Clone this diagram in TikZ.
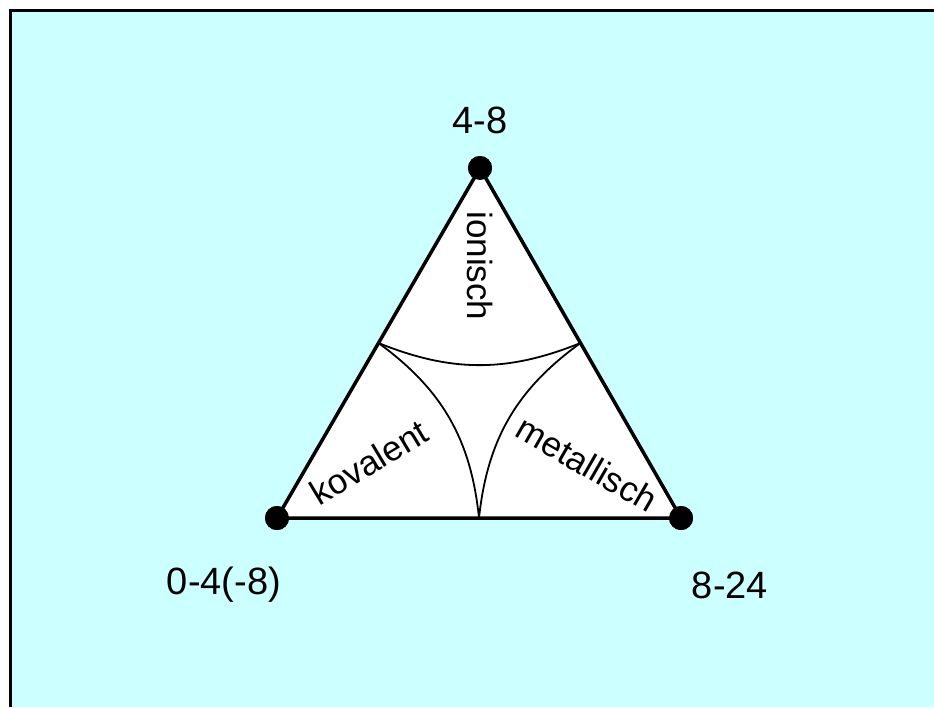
\documentclass[tikz,border=0pt]{standalone}
\usepackage{fontspec}
\setmainfont{Liberation Sans}
\usetikzlibrary{calc}
\definecolor{paneltint}{RGB}{204,255,255}
\tikzset{
  vertex/.style={circle, fill=black, inner sep=0pt, minimum size=24pt},
  edge/.style={line width=3.5pt, line join=round},
  boundary/.style={line width=1.8pt},
  region/.style={font=\fontsize{35}{40}\selectfont, inner sep=0pt},
  corner/.style={font=\fontsize{38}{44}\selectfont, inner sep=0pt}
}

\begin{document}
\begin{tikzpicture}[x=1pt, y=-1pt]
  \useasboundingbox (0,0) rectangle (934,707);
  % panel
  \fill[paneltint] (10,10) rectangle (934,707);
  \draw[line width=3pt] (10,707) -- (10,10) -- (934,10);

  % triangle
  \node[vertex] (top) at (480,168) {};
  \node[vertex] (left) at (277,518) {};
  \node[vertex] (right) at (681,518) {};
  \fill[white] (top.center) -- (left.center) -- (right.center) -- cycle;
  \draw[edge] (top.center) -- (left.center) -- (right.center) -- cycle;
  \node[vertex] at (top) {};
  \node[vertex] at (left) {};
  \node[vertex] at (right) {};

  % inner boundaries
  \coordinate (midl) at ($(top)!0.5!(left)$);
  \coordinate (midr) at ($(top)!0.5!(right)$);
  \coordinate (midb) at ($(left)!0.5!(right)$);
  \draw[boundary] (midl) to[bend right=22] (midr);
  \draw[boundary] (midl) to[bend left=24] (midb);
  \draw[boundary] (midr) to[bend right=24] (midb);

  % labels
  \node[corner] (ltop) at (480,120) {4-8};
  \node[corner] (lleft) at (224,585) {0-4(-8)};
  \node[corner] (lright) at (730,585) {8-24};
  \node[region, rotate=-90] (ion) at (480,266) {ionisch};
  \node[region, rotate=31] (kov) at (369,462) {kovalent};
  \node[region, rotate=-30] (met) at (587,464) {metallisch};
\end{tikzpicture}
\end{document}
